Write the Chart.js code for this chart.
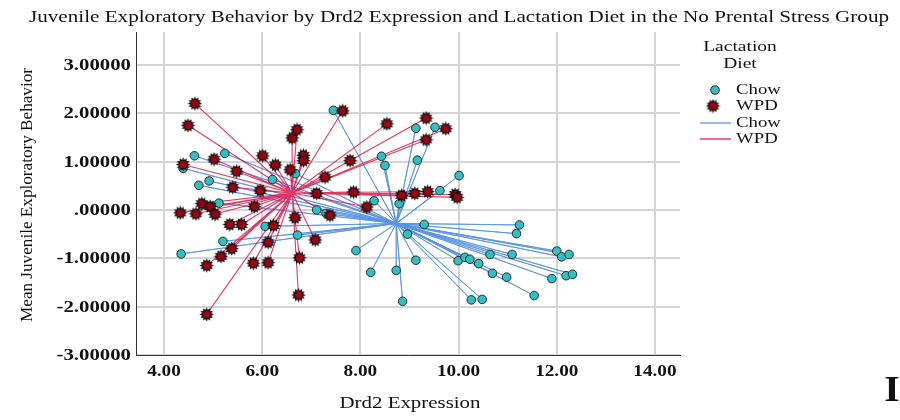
<!DOCTYPE html>
<html lang="en">
<head>
<meta charset="UTF-8">
<title>Drd2 Expression - No Prental Stress</title>
<script src="https://cdn.jsdelivr.net/npm/chart.js"></script>
<style>
  body { margin: 0; background: #fff; }
  #wrap { width: 900px; height: 420px; }
</style>
</head>
<body>
<div id="wrap"><canvas id="chart" width="900" height="420"></canvas></div>
<script>
// Chow group (Drd2 expression, mean exploratory behaviour)
const chowX = [4.35,4.39,4.62,5.24,4.71,4.92,5.12,5.20,6.06,6.72,
               6.21,6.68,7.11,7.30,7.45,9.13,9.52,8.43,8.50,9.16,
               9.62,10.01,8.28,8.79,9.30,8.96,7.91,8.21,8.73,9.13,
               8.86,11.24,11.18,12.00,12.10,12.25,10.64,11.09,9.99,10.13,
               10.23,10.41,10.69,10.98,11.90,12.19,12.32,11.54,10.26,10.48];
const chowY = [-0.91,0.86,1.12,1.17,0.51,0.60,0.14,-0.65,-0.34,-0.52,
               0.63,0.75,0.00,-0.07,2.06,1.69,1.71,1.11,0.92,1.03,
               0.40,0.71,0.19,0.13,-0.30,-0.50,-0.84,-1.29,-1.25,-1.04,
               -1.89,-0.31,-0.49,-0.85,-0.97,-0.92,-0.92,-0.92,-1.05,-0.98,
               -1.02,-1.11,-1.31,-1.39,-1.42,-1.36,-1.33,-1.77,-1.86,-1.85];

// WPD group
const wpdX = [4.63,4.49,4.39,5.02,5.48,5.40,6.01,6.27,6.57,6.61,
              6.71,6.84,6.84,5.96,4.77,4.94,4.33,4.65,5.04,5.84,
              5.34,5.58,6.23,6.12,5.38,5.16,4.87,5.82,6.12,6.76,
              6.74,4.87,6.67,7.08,7.64,8.54,9.34,9.74,9.34,7.79,
              7.28,9.11,9.37,8.84,9.93,9.97,7.86,8.13,7.38,7.11];
const wpdY = [2.20,1.75,0.94,1.05,0.80,0.47,1.12,0.93,0.83,1.49,
              1.66,1.13,1.02,0.40,0.13,0.07,-0.06,-0.08,-0.09,0.07,
              -0.30,-0.30,-0.32,-0.67,-0.80,-0.96,-1.15,-1.10,-1.09,-0.99,
              -1.76,-2.16,-0.16,-0.62,2.05,1.78,1.90,1.68,1.45,1.02,
              0.68,0.34,0.38,0.30,0.32,0.26,0.37,0.06,-0.11,0.34];

// group centroids the spokes run to
const chowCenter = [8.73, -0.28];
const wpdCenter = [6.61, 0.35];

const xTickValues = [4, 6, 8, 10, 12, 14];
const xTickLabels = ['4.00', '6.00', '8.00', '10.00', '12.00', '14.00'];
const yTickValues = [-3, -2, -1, 0, 1, 2, 3];
const yTickLabels = ['-3.00000', '-2.00000', '-1.00000', '.00000', '1.00000', '2.00000', '3.00000'];

const legendTitle = ['Lactation', 'Diet'];
const legendNames = ['Chow', 'WPD', 'Chow', 'WPD'];

const TEAL = '#2fc0c6';
const BLUE_LINE = 'rgba(88,148,228,0.85)';
const RED_LINE = 'rgba(222,22,72,0.85)';
const SERIF = '"Liberation Serif", "Times New Roman", serif';

function toPoints(xs, ys) {
  return xs.map((x, i) => ({ x: x, y: ys[i] }));
}

// centroid -> point -> centroid -> point ... gives one path of spokes
function spokes(xs, ys, c) {
  const out = [];
  xs.forEach((x, i) => {
    out.push({ x: c[0], y: c[1] });
    out.push({ x: x, y: ys[i] });
  });
  out.push({ x: c[0], y: c[1] });
  return out;
}

// spiky burst marker for WPD
function makeStar(size) {
  const c = document.createElement('canvas');
  c.width = c.height = size;
  const g = c.getContext('2d');
  const m = size / 2, r0 = m - 0.3, r1 = r0 * 0.66, n = 12;
  g.beginPath();
  for (let i = 0; i < n * 2; i++) {
    const r = i % 2 ? r1 : r0;
    const a = i * Math.PI / n - Math.PI / 2;
    g.lineTo(m + r * Math.cos(a), m + r * Math.sin(a));
  }
  g.closePath();
  g.fillStyle = '#111';
  g.fill();
  g.beginPath();
  g.arc(m, m, r1 * 0.78, 0, Math.PI * 2);
  g.fillStyle = '#9a0010';
  g.fill();
  return c;
}
const star = makeStar(15);

function stretchText(ctx, str, x, y, font, align, sx, rot) {
  ctx.save();
  ctx.translate(x, y);
  if (rot) ctx.rotate(rot);
  ctx.scale(sx, 1);
  ctx.font = font;
  ctx.textAlign = align;
  ctx.textBaseline = 'middle';
  ctx.fillStyle = '#111';
  ctx.fillText(str, 0, 0);
  ctx.restore();
}

function fitScale(ctx, str, font, width) {
  ctx.save();
  ctx.font = font;
  const w = ctx.measureText(str).width;
  ctx.restore();
  return width / w;
}

// titles, tick labels and legend, drawn wide like the SPSS export
const textLayer = {
  id: 'textLayer',
  afterDraw(chart) {
    const ctx = chart.ctx;
    const xs = chart.scales.x, ys = chart.scales.y;

    const tFont = '17px ' + SERIF;
    const title = 'Juvenile Exploratory Behavior by Drd2 Expression and Lactation Diet in the No Prental Stress Group';
    stretchText(ctx, title, 459, 18, tFont, 'center', fitScale(ctx, title, tFont, 860));

    const aFont = '16px ' + SERIF;
    const yTitle = 'Mean Juvenile Exploratory Behavior';
    stretchText(ctx, yTitle, 28, 195, aFont, 'center', fitScale(ctx, yTitle, aFont, 254), -Math.PI / 2);
    const xTitle = 'Drd2 Expression';
    stretchText(ctx, xTitle, 410, 404, aFont, 'center', fitScale(ctx, xTitle, aFont, 141));

    const kFont = 'bold 16px ' + SERIF;
    yTickValues.forEach((v, i) => {
      stretchText(ctx, yTickLabels[i], 131, ys.getPixelForValue(v) + 1, kFont, 'right', 1.3);
    });
    xTickValues.forEach((v, i) => {
      stretchText(ctx, xTickLabels[i], xs.getPixelForValue(v), 372, kFont, 'center', 1.2);
    });

    // legend
    const lFont = '15px ' + SERIF;
    stretchText(ctx, legendTitle[0], 740, 47, lFont, 'center', 1.3);
    stretchText(ctx, legendTitle[1], 740, 64, lFont, 'center', 1.3);
    const rows = [90, 106, 123, 139];
    rows.forEach((y, i) => stretchText(ctx, legendNames[i], 736, y, lFont, 'left', 1.25));

    ctx.save();
    ctx.beginPath();
    ctx.arc(715, 90, 4.3, 0, Math.PI * 2);
    ctx.fillStyle = TEAL;
    ctx.fill();
    ctx.lineWidth = 1;
    ctx.strokeStyle = '#2a2a2a';
    ctx.stroke();
    ctx.drawImage(star, 713 - 7.5, 106 - 7.5);
    ctx.lineWidth = 1.5;
    ctx.strokeStyle = BLUE_LINE;
    ctx.beginPath(); ctx.moveTo(700, 123); ctx.lineTo(731, 123); ctx.stroke();
    ctx.strokeStyle = RED_LINE;
    ctx.beginPath(); ctx.moveTo(700, 139); ctx.lineTo(731, 139); ctx.stroke();
    ctx.restore();

    stretchText(ctx, 'I', 892, 392, 'bold 36px ' + SERIF, 'center', 1.1);
  }
};

new Chart(document.getElementById('chart'), {
  type: 'scatter',
  data: {
    datasets: [
      {
        label: 'Chow fit',
        data: spokes(chowX, chowY, chowCenter),
        showLine: true,
        borderColor: BLUE_LINE,
        borderWidth: 1,
        pointRadius: 0,
        order: 4
      },
      {
        label: 'WPD fit',
        data: spokes(wpdX, wpdY, wpdCenter),
        showLine: true,
        borderColor: RED_LINE,
        borderWidth: 1.1,
        pointRadius: 0,
        order: 3
      },
      {
        label: 'Chow',
        data: toPoints(chowX, chowY),
        pointRadius: 4.3,
        pointBackgroundColor: TEAL,
        pointBorderColor: '#2a2a2a',
        pointBorderWidth: 1,
        order: 2
      },
      {
        label: 'WPD',
        data: toPoints(wpdX, wpdY),
        pointStyle: star,
        pointRadius: 7,
        order: 1
      }
    ]
  },
  options: {
    responsive: false,
    animation: false,
    layout: { padding: { left: 0, right: 220, top: 32, bottom: 0 } },
    plugins: {
      legend: { display: false },
      tooltip: { enabled: false },
      title: { display: false }
    },
    scales: {
      x: {
        type: 'linear',
        min: 3.43,
        max: 14.51,
        afterBuildTicks: s => { s.ticks = xTickValues.map(v => ({ value: v })); },
        afterFit: s => { s.height = 65; },
        ticks: { display: false },
        grid: { color: '#d4d4d4', lineWidth: 2, drawTicks: false },
        border: { display: true, color: '#333', width: 1 }
      },
      y: {
        type: 'linear',
        min: -3,
        max: 3.68,
        afterBuildTicks: s => { s.ticks = yTickValues.map(v => ({ value: v })); },
        afterFit: s => { s.width = 136; },
        ticks: { display: false },
        grid: { color: '#d4d4d4', lineWidth: 2, drawTicks: false },
        border: { display: true, color: '#333', width: 1 }
      }
    }
  },
  plugins: [textLayer]
});
</script>
</body>
</html>
